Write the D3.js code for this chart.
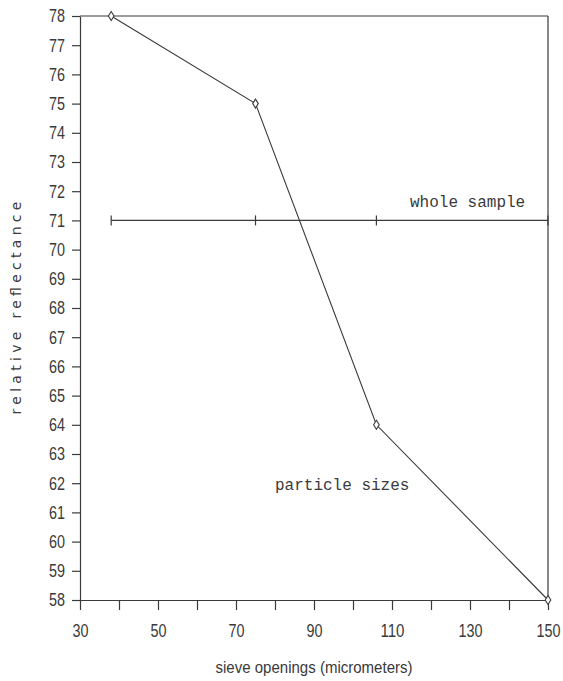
<!DOCTYPE html>
<html>
<head>
<meta charset="utf-8">
<script src="https://cdn.jsdelivr.net/npm/d3@7"></script>
<style>
  html, body { margin: 0; padding: 0; background: #fff; }
  svg { display: block; }
  .tick text { font-family: "Liberation Sans", Arial, sans-serif; font-size: 18.5px; fill: #3a3a3a; }
</style>
</head>
<body>
<svg id="chart" width="563" height="681"></svg>
<script>
// Sieve openings (micrometers) and relative reflectance
const sieveOpenings = [38, 75, 106, 150];
const particleSizes = [78, 75, 64, 58];
const wholeSample = [71, 71, 71, 71];
const xTickValues = [30, 40, 50, 60, 70, 80, 90, 100, 110, 120, 130, 140, 150];
const xTickLabels = [30, 50, 70, 90, 110, 130, 150];
const yTickValues = d3.range(58, 79, 1);

const ink = "#3a3a3a";
const digitWidth = 8; // condensed numerals
const svg = d3.select("#chart");

const x = d3.scaleLinear().domain([30, 150]).range([80, 548]);
const y = d3.scaleLinear().domain([58, 78]).range([600, 16]);

// Axes
const xAxis = d3.axisBottom(x)
  .tickValues(xTickValues)
  .tickSize(10)
  .tickSizeOuter(0)
  .tickPadding(10)
  .tickFormat(d => xTickLabels.includes(d) ? d : "");

const yAxis = d3.axisLeft(y)
  .tickValues(yTickValues)
  .tickSize(8)
  .tickSizeOuter(0)
  .tickPadding(7)
  .tickFormat(d3.format("d"));

const gx = svg.append("g").attr("transform", `translate(0,${y(58)})`).call(xAxis);
const gy = svg.append("g").attr("transform", `translate(${x(30)},0)`).call(yAxis);
[gx, gy].forEach(g => {
  g.selectAll("path, line").attr("stroke", ink).attr("stroke-width", 1.2);
  g.selectAll(".tick text")
    .filter(function () { return this.textContent.length > 0; })
    .attr("textLength", function () { return this.textContent.length * digitWidth; })
    .attr("lengthAdjust", "spacingAndGlyphs");
});
gx.selectAll(".tick text").attr("dy", "0.9em");

// Frame: top and right edges
svg.append("line")
  .attr("x1", x(30)).attr("x2", x(150))
  .attr("y1", y(78)).attr("y2", y(78))
  .attr("stroke", ink).attr("stroke-width", 1.2);
svg.append("line")
  .attr("x1", x(150)).attr("x2", x(150))
  .attr("y1", y(78)).attr("y2", y(58))
  .attr("stroke", ink).attr("stroke-width", 1.2);

const line = d3.line().x(d => x(d[0])).y(d => y(d[1]));

// Whole sample: flat line with vertical tick markers
const wholePts = sieveOpenings.map((s, i) => [s, wholeSample[i]]);
svg.append("path")
  .datum(wholePts)
  .attr("d", line)
  .attr("fill", "none")
  .attr("stroke", ink)
  .attr("stroke-width", 1.1);
svg.selectAll(".wtick")
  .data(wholePts)
  .join("line")
  .attr("class", "wtick")
  .attr("x1", d => x(d[0])).attr("x2", d => x(d[0]))
  .attr("y1", d => y(d[1]) - 5).attr("y2", d => y(d[1]) + 5)
  .attr("stroke", ink).attr("stroke-width", 1.2);

// Particle sizes: line with diamond markers
const partPts = sieveOpenings.map((s, i) => [s, particleSizes[i]]);
svg.append("path")
  .datum(partPts)
  .attr("d", line)
  .attr("fill", "none")
  .attr("stroke", ink)
  .attr("stroke-width", 1.1);
svg.selectAll(".diamond")
  .data(partPts)
  .join("path")
  .attr("class", "diamond")
  .attr("d", "M0,-4.5L2.8,0L0,4.5L-2.8,0Z")
  .attr("transform", d => `translate(${x(d[0])},${y(d[1])})`)
  .attr("fill", "#fff")
  .attr("stroke", ink)
  .attr("stroke-width", 1.1);

// Series labels
svg.append("text")
  .attr("x", 410).attr("y", 207)
  .attr("font-family", "'Liberation Mono', 'Courier New', monospace")
  .attr("font-size", 16)
  .attr("fill", ink)
  .text("whole sample");
svg.append("text")
  .attr("x", 275).attr("y", 490)
  .attr("font-family", "'Liberation Mono', 'Courier New', monospace")
  .attr("font-size", 16)
  .attr("fill", ink)
  .text("particle sizes");

// Axis titles
svg.append("text")
  .attr("x", 314).attr("y", 673)
  .attr("text-anchor", "middle")
  .attr("font-family", "'Liberation Sans', Arial, sans-serif")
  .attr("font-size", 17)
  .attr("textLength", 197)
  .attr("lengthAdjust", "spacingAndGlyphs")
  .attr("fill", ink)
  .text("sieve openings (micrometers)");
svg.append("text")
  .attr("transform", "translate(21,308) rotate(-90)")
  .attr("text-anchor", "middle")
  .attr("font-family", "'DejaVu Sans', sans-serif")
  .attr("font-size", 14)
  .attr("textLength", 213)
  .attr("lengthAdjust", "spacing")
  .attr("fill", ink)
  .text("relative reflectance");
</script>
</body>
</html>
